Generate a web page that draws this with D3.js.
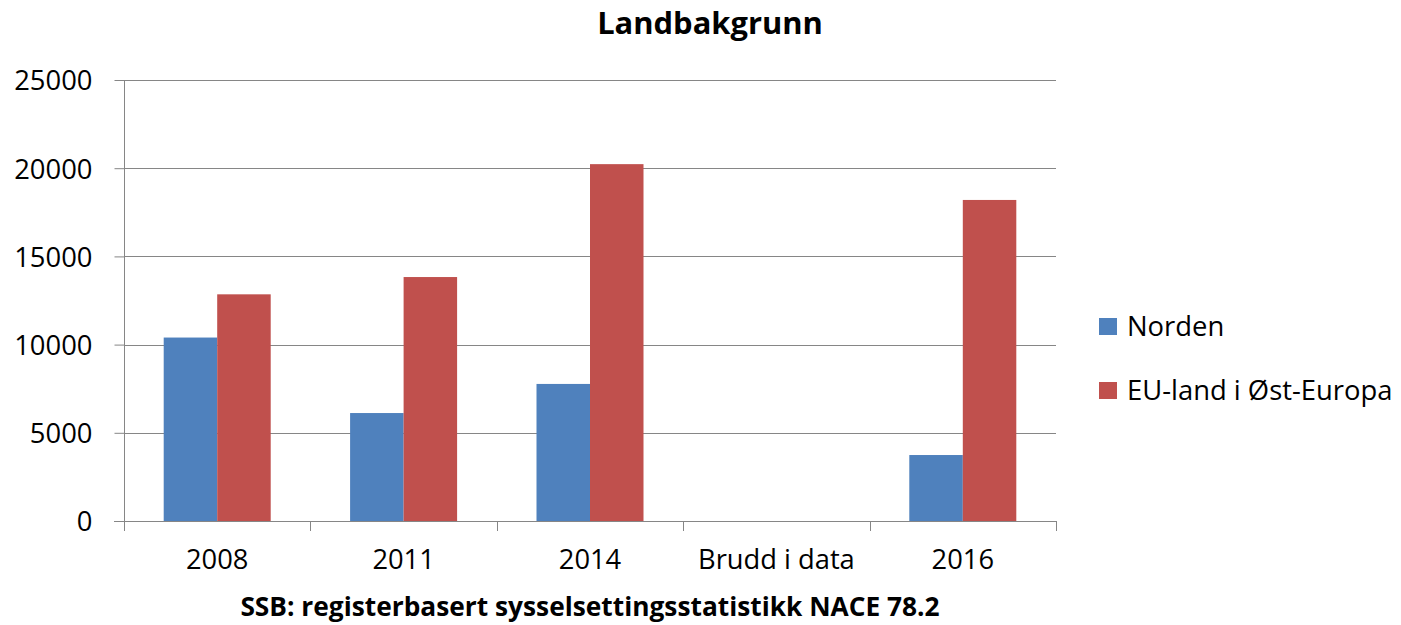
<!DOCTYPE html>
<html>
<head>
<meta charset="utf-8">
<script src="https://cdn.jsdelivr.net/npm/d3@7"></script>
<style>
  body { margin: 0; background: #fff; }
  svg { font-family: "Open Sans", sans-serif; }
</style>
</head>
<body>
<div id="chart"></div>
<script>
// Chart data
const categories = ['2008', '2011', '2014', 'Brudd i data', '2016'];
const seriesNames = ['Norden', 'EU-land i Øst-Europa'];
const norden = [10400, 6120, 7770, null, 3740];
const euOst = [12850, 13830, 20230, null, 18200];
const yTicks = [0, 5000, 10000, 15000, 20000, 25000];
const colors = ['#4F81BD', '#C0504D'];

const width = 1401, height = 625;
const plot = { left: 124, right: 1056, top: 80, bottom: 521 };

const svg = d3.select('#chart')
    .append('svg')
    .attr('width', width)
    .attr('height', height);

const x0 = d3.scaleBand()
    .domain(categories)
    .range([plot.left, plot.right])
    .paddingInner(0)
    .paddingOuter(0);

const x1 = d3.scaleBand()
    .domain(seriesNames)
    .range([0, x0.bandwidth()])
    .paddingInner(0)
    .paddingOuter(0.742);

const y = d3.scaleLinear()
    .domain([0, 25000])
    .range([plot.bottom, plot.top]);

// Gridlines
svg.append('g')
    .selectAll('line')
    .data(yTicks.filter(d => d > 0))
    .join('line')
    .attr('x1', plot.left)
    .attr('x2', plot.right)
    .attr('y1', d => Math.round(y(d)) + 0.5)
    .attr('y2', d => Math.round(y(d)) + 0.5)
    .attr('stroke', '#868686')
    .attr('stroke-width', 1);

// Bars
const rows = categories.map((c, i) => ({ cat: c, values: [norden[i], euOst[i]] }));
svg.append('g')
    .selectAll('g')
    .data(rows)
    .join('g')
    .attr('transform', d => `translate(${x0(d.cat)},0)`)
    .selectAll('rect')
    .data(d => d.values.map((v, k) => ({ name: seriesNames[k], v, k })).filter(d => d.v != null))
    .join('rect')
    .attr('x', d => x1(d.name))
    .attr('width', x1.bandwidth())
    .attr('y', d => y(d.v))
    .attr('height', d => y(0) - y(d.v))
    .attr('fill', d => colors[d.k]);

// Y axis
const yAxis = svg.append('g')
    .attr('transform', `translate(${plot.left + 0.5},0)`)
    .call(d3.axisLeft(y).tickValues(yTicks).tickSize(10).tickPadding(22).tickFormat(d3.format('d')));
yAxis.select('.domain').attr('stroke', '#868686').attr('d', `M0,${plot.top}V${plot.bottom}`);
yAxis.selectAll('.tick line').attr('stroke', '#868686');
yAxis.selectAll('.tick text')
    .attr('fill', '#000')
    .attr('font-size', '27.4px')
    .attr('font-family', '"Open Sans", sans-serif')
    .attr('dy', '0.36em');

// X axis
const xAxis = svg.append('g')
    .attr('transform', `translate(0,${plot.bottom + 0.5})`)
    .call(d3.axisBottom(x0).tickSize(0).tickPadding(42));
xAxis.select('.domain').attr('stroke', '#868686').attr('d', `M${plot.left - 10},0H${plot.right}`);
xAxis.selectAll('.tick text')
    .attr('fill', '#000')
    .attr('font-size', '27.3px')
    .attr('font-family', '"Open Sans", sans-serif')
    .attr('dy', '0.2em');
// category boundary ticks
svg.append('g')
    .selectAll('line')
    .data(categories.map(c => x0(c)).concat([plot.right]))
    .join('line')
    .attr('x1', d => Math.round(d) + 0.5)
    .attr('x2', d => Math.round(d) + 0.5)
    .attr('y1', plot.bottom)
    .attr('y2', plot.bottom + 10)
    .attr('stroke', '#868686');

// Title
svg.append('text')
    .attr('x', 710)
    .attr('y', 34)
    .attr('text-anchor', 'middle')
    .attr('font-size', '30.9px')
    .attr('font-weight', 'bold')
    .text('Landbakgrunn');

// Source
svg.append('text')
    .attr('x', 590)
    .attr('y', 616)
    .attr('text-anchor', 'middle')
    .attr('font-size', '26.3px')
    .attr('font-weight', 'bold')
    .text('SSB: registerbasert sysselsettingsstatistikk NACE 78.2');

// Legend
const legend = svg.append('g')
    .selectAll('g')
    .data(seriesNames)
    .join('g')
    .attr('transform', (d, i) => `translate(1099,${318 + i * 64})`);
legend.append('rect')
    .attr('width', 18)
    .attr('height', 17)
    .attr('fill', (d, i) => colors[i]);
legend.append('text')
    .attr('x', 28)
    .attr('y', 18)
    .attr('font-size', '27.4px')
    .text(d => d);
</script>
</body>
</html>
